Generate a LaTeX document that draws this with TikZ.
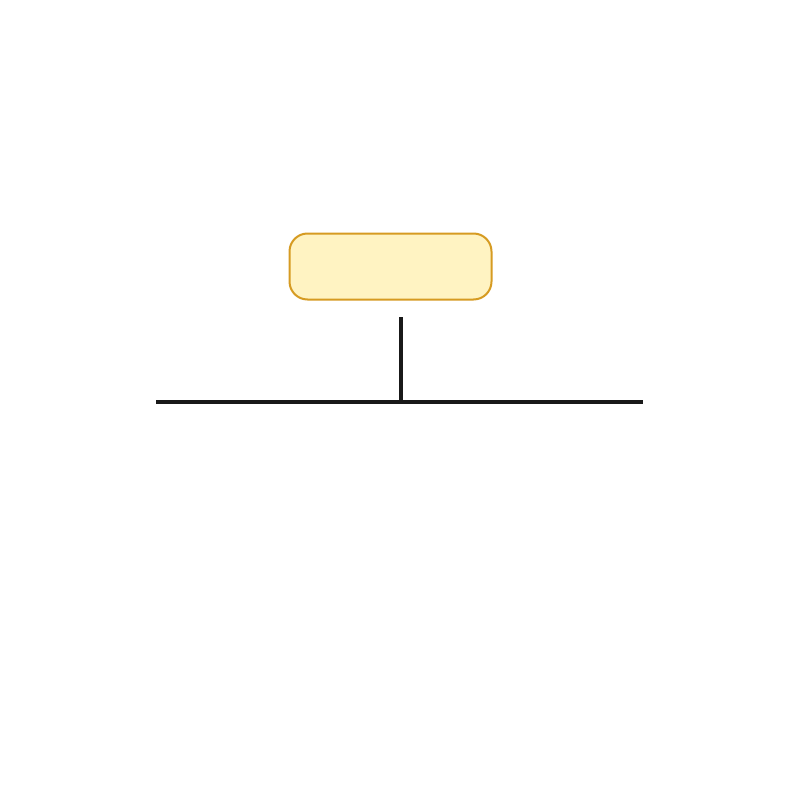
\documentclass[tikz,border=0pt]{standalone}
\definecolor{boxfill}{HTML}{FFF3C2}
\definecolor{boxdraw}{HTML}{D69B22}
\begin{document}
\begin{tikzpicture}[x=1pt,y=-1pt,
  yellowbox/.style={draw=boxdraw,fill=boxfill,line width=2pt,rounded corners=18pt,minimum width=202pt,minimum height=66pt,inner sep=0pt},
  blackline/.style={draw=black!90,line width=3.3pt}]
\useasboundingbox[fill=white] (0,0) rectangle (800,800);
\node[yellowbox] (box) at (390.5,266.5) {};
\coordinate (vtop) at (401,317);
\coordinate (vbot) at (401,402);
\coordinate (hl) at (156,402);
\coordinate (hr) at (643,402);
\draw[blackline] (vtop) -- (vbot);
\draw[blackline] (hl) -- (hr);
\end{tikzpicture}
\end{document}
